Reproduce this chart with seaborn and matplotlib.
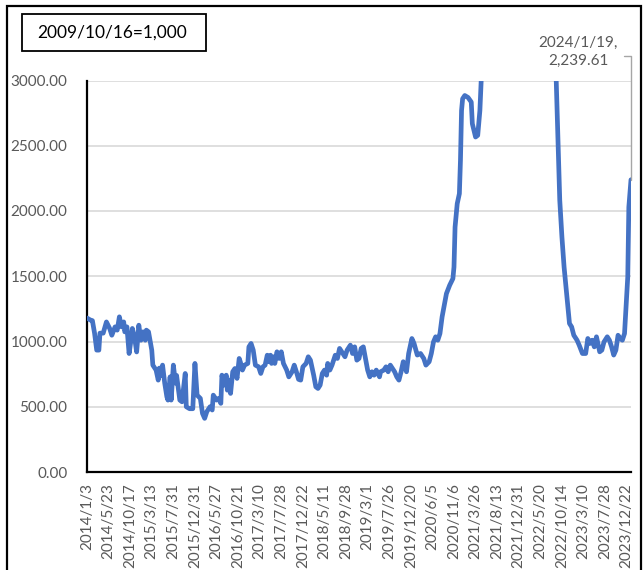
import numpy as np
import pandas as pd
import matplotlib
matplotlib.use("Agg")
import matplotlib.pyplot as plt
import seaborn as sns
from matplotlib.patches import Rectangle
from matplotlib.lines import Line2D

# Weekly freight index, x = week number counted from 2014/1/3
weeks = [0, 3, 5, 7, 9, 11, 12, 15, 18, 21, 23, 26, 28, 30, 32, 34, 35, 37, 39, 41,
         42, 44, 46, 48, 50, 52, 54, 55, 57, 60, 61, 64, 66, 67, 69, 70, 72, 74, 75, 77,
         78, 80, 82, 83, 86, 88, 91, 92, 95, 98, 100, 102, 105, 107, 109, 111, 114, 116, 117, 120,
         122, 124, 125, 127, 129, 130, 132, 133, 135, 137, 139, 141, 142, 144, 146, 149, 150, 152, 154, 156,
         159, 161, 163, 165, 167, 168, 170, 171, 173, 174, 176, 178, 180, 182, 185, 187, 190, 192, 194, 196,
         198, 200, 203, 205, 207, 210, 212, 214, 216, 218, 220, 222, 223, 225, 227, 229, 230, 232, 234, 237,
         239, 241, 244, 246, 248, 250, 252, 254, 256, 258, 260, 262, 264, 266, 268, 271, 272, 275, 277, 279,
         281, 283, 285, 287, 289, 291, 293, 296, 298, 301, 303, 306, 309, 312, 314, 317, 319, 321, 323, 325,
         327, 329, 331, 333, 336, 339, 340, 341, 343, 345, 346, 347, 348, 350, 353, 356, 357, 360, 362, 364,
         366, 370, 380, 390, 400, 410, 419, 425, 430, 434,
         436, 438, 440, 442, 445, 447, 449, 451, 454, 456, 459, 462, 464, 466, 468, 470, 472, 475, 477, 479,
         482, 484, 486, 488, 490, 492, 494, 496, 498, 501, 502, 504]
scfi = [1180, 1165, 1160, 1064, 934, 934, 1064, 1064, 1150, 1100, 1048, 1112, 1087, 1189, 1112, 1150, 1074, 1112, 908, 1025,
        1100, 1036, 920, 1125, 1010, 1074, 1010, 1087, 1074, 934, 819, 781, 704, 796, 740, 819, 681, 576, 551, 729,
        551, 819, 681, 740, 551, 538, 755, 500, 485, 485, 832, 589, 564, 449, 411, 462, 500, 475, 589, 551,
        564, 526, 742, 666, 742, 627, 704, 602, 768, 793, 717, 870, 845, 781, 819, 832, 959, 985, 934, 819,
        806, 755, 806, 819, 895, 845, 895, 832, 883, 832, 921, 870, 921, 832, 781, 729, 768, 819, 768, 710,
        704, 806, 832, 883, 857, 742, 653, 640, 666, 755, 781, 742, 832, 781, 819, 870, 895, 870, 947, 908,
        883, 934, 972, 908, 959, 857, 870, 947, 959, 870, 781, 729, 768, 742, 781, 729, 768, 781, 806, 768,
        819, 793, 768, 729, 704, 768, 845, 768, 908, 1023, 985, 896, 908, 870, 819, 845, 908, 997, 1036, 1010,
        1061, 1189, 1278, 1367, 1431, 1482, 1571, 1877, 2056, 2133, 2388, 2770, 2860, 2885, 2870, 2835, 2669, 2567, 2580, 2770,
        3150, 3400, 3800, 4200, 4600, 4900, 5100, 4700, 4000, 3200,
        2643, 2082, 1801, 1571, 1316, 1138, 1112, 1048, 1010, 972, 908, 908, 1023, 985, 1010, 959, 1036, 921, 934, 997,
        1036, 1010, 959, 896, 934, 1048, 1023, 1010, 1061, 1495, 2030, 2239.61]

tick_labels = ["2014/1/3", "2014/5/23", "2014/10/17", "2015/3/13", "2015/7/31", "2015/12/31",
               "2016/5/27", "2016/10/21", "2017/3/10", "2017/7/28", "2017/12/22", "2018/5/11",
               "2018/9/28", "2019/3/1", "2019/7/26", "2019/12/20", "2020/6/5", "2020/11/6",
               "2021/3/26", "2021/8/13", "2021/12/31", "2022/5/20", "2022/10/14", "2023/3/10",
               "2023/7/28", "2023/12/22"]
tick_step = 20
y_ticks = [0, 500, 1000, 1500, 2000, 2500, 3000]
base_note = "2009/10/16=1,000"
last_note = "2024/1/19,\n2,239.61"

W, H = 644, 570
sns.set_theme(style="white")
plt.rcParams["font.family"] = ["Lato", "DejaVu Sans"]

fig = plt.figure(figsize=(W / 100, H / 100), dpi=100)
fig.patch.set_facecolor("white")
ax = fig.add_axes([87 / W, 1 - 472 / H, (631 - 87) / W, (472 - 80.5) / H])

df = pd.DataFrame({"week": weeks, "index": scfi})
sns.lineplot(data=df, x="week", y="index", ax=ax, color="#4472C4",
             linewidth=3.4, solid_joinstyle="round", solid_capstyle="round", zorder=3)

ax.set_xlim(0, weeks[-1])
ax.set_ylim(y_ticks[0], y_ticks[-1])
ax.set_yticks(y_ticks)
ax.set_yticklabels([f"{v:.2f}" for v in y_ticks])
ax.set_xticks(np.arange(len(tick_labels)) * tick_step)
ax.set_xticklabels(tick_labels, rotation=90)
ax.set_xlabel("")
ax.set_ylabel("")

ax.grid(axis="y", color="#D9D9D9", linewidth=1.2)
ax.grid(axis="x", visible=False)
ax.set_axisbelow(True)
for side in ("top", "right"):
    ax.spines[side].set_visible(False)
for side in ("left", "bottom"):
    ax.spines[side].set_color("black")
    ax.spines[side].set_linewidth(1.6)
ax.tick_params(axis="y", length=0, pad=14, labelsize=11, labelcolor="#595959")
ax.tick_params(axis="x", length=0, pad=8, labelsize=11, labelcolor="#595959")

# base-date note in a framed box
fig.patches.append(Rectangle((22.5 / W, 1 - 51 / H), (206 - 22.5) / W, (51 - 14) / H,
                             transform=fig.transFigure, fill=False, ec="black", lw=1.3))
fig.text(112 / W, 1 - 33 / H, base_note, ha="center", va="center", fontsize=12.5, color="black")

# label for the latest value with an elbow leader line
fig.text(578 / W, 1 - 52 / H, last_note, ha="center", va="center", fontsize=11,
         color="#595959", linespacing=1.3, multialignment="center")
px, py = ax.transData.transform((weeks[-1], scfi[-1]))
top_y = fig.transFigure.transform((0, 1 - 56 / H))[1]
stub_x = fig.transFigure.transform((623.5 / W, 0))[0]
fig.lines.append(Line2D([stub_x, px, px], [top_y, top_y, py], transform=None,
                        color="#A6A6A6", lw=1.0))

# outer frame
fig.patches.append(Rectangle((7 / W, -0.05), (641 - 7) / W, 1.05 - 6 / H,
                             transform=fig.transFigure, fill=False, ec="black", lw=1.6))

fig.savefig("out.png", dpi=100)
